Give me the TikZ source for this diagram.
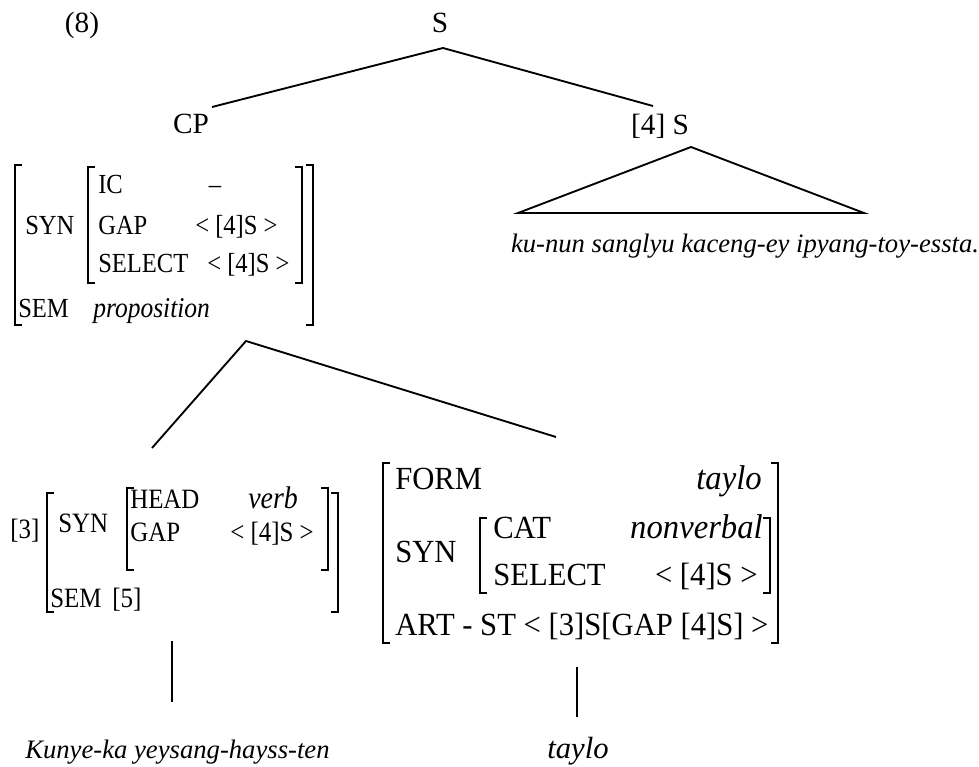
\documentclass[tikz,border=0pt]{standalone}
\usepackage{fontspec}
\setmainfont{Liberation Serif}
\newfontfamily\narrowfont{Liberation Serif}[FakeStretch=0.89]
\newfontfamily\slimfont{Liberation Serif}[FakeStretch=0.95]
\usetikzlibrary{positioning}
\newcommand{\lbrk}[3]{\draw[brk] (#1+7,#2) -- (#1,#2) -- (#1,#3) -- (#1+7,#3);}
\newcommand{\rbrk}[3]{\draw[brk] (#1-7,#2) -- (#1,#2) -- (#1,#3) -- (#1-7,#3);}
\tikzset{
  tree/.style={line width=1.4pt},
  brk/.style={line width=1pt},
  lab/.style={inner sep=0pt,anchor=base west},
  labr/.style={inner sep=0pt,anchor=base east},
  labc/.style={inner sep=0pt,anchor=base},
  tlab/.style={font=\fontsize{22}{26}\selectfont},
  tit/.style={font=\fontsize{20}{24}\selectfont\itshape},
  wit/.style={font=\fontsize{23}{27}\selectfont\itshape},
  avm/.style={font=\narrowfont\fontsize{20.7}{24}\selectfont},
  avmit/.style={font=\narrowfont\fontsize{21.5}{25}\selectfont\itshape},
  mavm/.style={font=\narrowfont\fontsize{21}{24}\selectfont},
  mavmit/.style={font=\narrowfont\fontsize{23.5}{27}\selectfont\itshape},
  bavm/.style={font=\slimfont\fontsize{24.2}{28}\selectfont},
  bavmit/.style={font=\slimfont\fontsize{25.8}{30}\selectfont\itshape},
}
\begin{document}
\begin{tikzpicture}[x=0.75pt,y=-0.75pt]
\useasboundingbox (0,0) rectangle (979,767);
\draw(82,33) node[labc,tlab] (ex) {(8)};
\draw(440,33) node[labc,tlab] (s) {S};
\draw(191,133) node[labc,tlab] (cp) {CP};
\draw(660,134) node[labc,tlab] (s4) {[4] S};
\coordinate (sfoot) at (443,48);
\coordinate (cphead) at (212,107);
\coordinate (s4head) at (653,106);
\draw[tree] (cphead) -- (sfoot) -- (s4head);
\coordinate (tritop) at (691,147);
\coordinate (trileft) at (518,213);
\coordinate (triright) at (864,213);
\draw[tree] (trileft) -- (tritop) -- (triright) -- cycle;
\draw(745,252) node[labc,tit] (sent) {ku-nun sanglyu kaceng-ey ipyang-toy-essta.};
\lbrk{15}{165}{325}
\rbrk{313}{165}{325}
\lbrk{88}{167}{283}
\rbrk{302}{167}{283}
\draw(25,234) node[lab,avm] (cpsyn) {SYN};
\draw(98,193) node[lab,avm] (cpic) {IC};
\draw(215,193) node[labc,avm] (cpicv) {–};
\draw(98,234) node[lab,avm] (cpgap) {GAP};
\draw(195,234) node[lab,avm] (cpgapv) {< [4]S >};
\draw(98,272) node[lab,avm] (cpsel) {SELECT};
\draw(207,272) node[lab,avm] (cpselv) {< [4]S >};
\draw(18,317) node[lab,avm] (cpsem) {SEM};
\draw(93,317) node[lab,avmit] (cpsemv) {proposition};
\coordinate (cpfoot) at (246,341);
\coordinate (lefthead) at (152,448);
\coordinate (righthead) at (556,437);
\draw[tree] (lefthead) -- (cpfoot) -- (righthead);
\draw(10,538) node[lab,mavm] (tag3) {[3]};
\lbrk{47}{493}{612}
\rbrk{338}{493}{612}
\lbrk{127}{488}{570}
\rbrk{328}{488}{570}
\draw(58,532) node[lab,mavm] (lsyn) {SYN};
\draw(130,508) node[lab,mavm] (lhead) {HEAD};
\draw(248,508) node[lab,mavmit] (lheadv) {verb};
\draw(130,541) node[lab,mavm] (lgap) {GAP};
\draw(230,541) node[lab,mavm] (lgapv) {< [4]S >};
\draw(50,607) node[lab,mavm] (lsem) {SEM\, [5]};
\lbrk{383}{463}{643}
\rbrk{778}{463}{643}
\lbrk{480}{518}{593}
\rbrk{770}{518}{593}
\draw(395,489) node[lab,bavm] (rform) {FORM};
\draw(762,489) node[labr,bavmit] (rformv) {taylo};
\draw(395,562) node[lab,bavm] (rsyn) {SYN};
\draw(493,538) node[lab,bavm] (rcat) {CAT};
\draw(763,538) node[labr,bavmit] (rcatv) {nonverbal};
\draw(493,585) node[lab,bavm] (rsel) {SELECT};
\draw(758,585) node[labr,bavm] (rselv) {< [4]S >};
\draw(395,635) node[lab,bavm] (rart) {ART - ST < [3]S[GAP [4]S] >};
\coordinate (lstemtop) at (172,641);
\coordinate (lstembot) at (172,702);
\coordinate (rstemtop) at (577,667);
\coordinate (rstembot) at (577,717);
\draw[tree] (lstemtop) -- (lstembot);
\draw[tree] (rstemtop) -- (rstembot);
\draw(25,758) node[lab,tit] (lword) {Kunye-ka yeysang-hayss-ten};
\draw(578,758) node[labc,wit] (rword) {taylo};
\end{tikzpicture}
\end{document}
